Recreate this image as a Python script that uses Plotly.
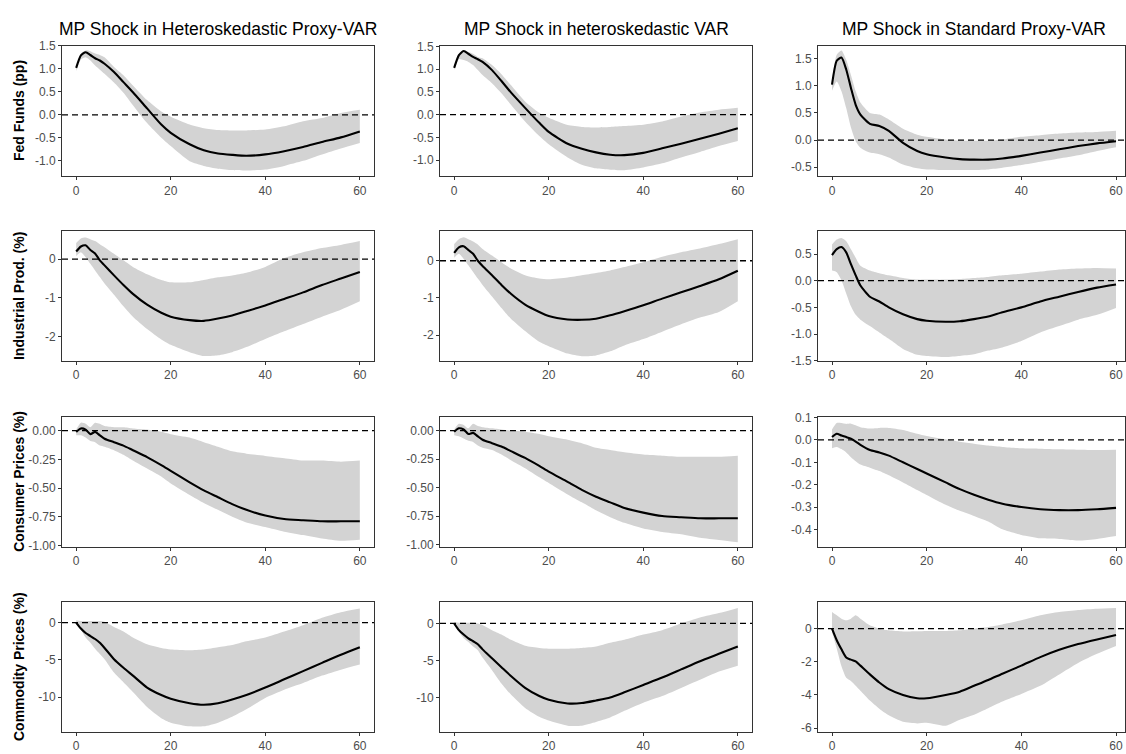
import plotly.graph_objects as go

W, HGT = 1126, 754

# horizons (months)
H = [0, 1, 2, 3, 4, 5, 6, 8, 10, 12, 15, 18, 20, 24, 27, 30, 33, 36, 40, 44, 48, 52, 56, 60]

col_titles = ["MP Shock in Heteroskedastic Proxy-VAR", "MP Shock in heteroskedastic VAR",
              "MP Shock in Standard Proxy-VAR"]
row_titles = ["Fed Funds (pp)", "Industrial Prod. (%)", "Consumer Prices (%)", "Commodity Prices (%)"]

# ---------- Fed Funds ----------
ff_hp_med = [1.02, 1.29, 1.36, 1.30, 1.23, 1.18, 1.11, 0.93, 0.71, 0.49, 0.14, -0.21, -0.39, -0.64, -0.77, -0.84, -0.87, -0.89, -0.86, -0.79, -0.70, -0.59, -0.49, -0.36]
ff_hp_up = [1.05, 1.33, 1.40, 1.38, 1.33, 1.30, 1.25, 1.04, 0.86, 0.64, 0.32, 0.07, -0.04, -0.21, -0.29, -0.33, -0.34, -0.34, -0.32, -0.25, -0.14, -0.07, 0.04, 0.11]
ff_hp_lo = [0.95, 1.20, 1.25, 1.18, 1.07, 0.98, 0.89, 0.70, 0.48, 0.21, -0.18, -0.50, -0.68, -1.01, -1.11, -1.17, -1.20, -1.21, -1.19, -1.11, -1.00, -0.86, -0.73, -0.61]

ff_hv_med = [1.03, 1.31, 1.40, 1.34, 1.27, 1.22, 1.16, 0.98, 0.74, 0.49, 0.15, -0.18, -0.38, -0.64, -0.75, -0.83, -0.88, -0.89, -0.84, -0.74, -0.64, -0.53, -0.42, -0.30]
ff_hv_up = [1.07, 1.34, 1.42, 1.38, 1.34, 1.27, 1.24, 1.09, 0.89, 0.65, 0.29, 0.04, -0.07, -0.23, -0.27, -0.28, -0.27, -0.25, -0.22, -0.15, -0.04, 0.05, 0.11, 0.15]
ff_hv_lo = [0.98, 1.22, 1.20, 1.16, 1.09, 0.98, 0.87, 0.69, 0.47, 0.22, -0.15, -0.47, -0.65, -0.94, -1.10, -1.18, -1.21, -1.22, -1.16, -1.07, -0.94, -0.82, -0.69, -0.58]

ff_sp_med = [1.02, 1.46, 1.52, 1.30, 0.96, 0.65, 0.47, 0.30, 0.26, 0.17, -0.05, -0.20, -0.26, -0.32, -0.35, -0.36, -0.36, -0.34, -0.29, -0.23, -0.17, -0.11, -0.06, -0.02]
ff_sp_up = [1.11, 1.57, 1.65, 1.48, 1.20, 0.90, 0.69, 0.50, 0.47, 0.38, 0.21, 0.10, 0.06, 0.01, -0.01, -0.01, -0.01, 0.01, 0.06, 0.09, 0.12, 0.14, 0.15, 0.17]
ff_sp_lo = [0.91, 1.08, 0.90, 0.59, 0.23, -0.02, -0.14, -0.23, -0.26, -0.32, -0.45, -0.52, -0.54, -0.55, -0.55, -0.55, -0.54, -0.51, -0.46, -0.40, -0.34, -0.28, -0.20, -0.13]

# ---------- Industrial production ----------
ip_hp_med = [0.20, 0.33, 0.36, 0.24, 0.15, -0.03, -0.16, -0.42, -0.67, -0.90, -1.18, -1.39, -1.49, -1.58, -1.60, -1.54, -1.46, -1.35, -1.20, -1.03, -0.86, -0.67, -0.50, -0.33]
ip_hp_up = [0.42, 0.54, 0.56, 0.52, 0.47, 0.39, 0.31, 0.14, -0.03, -0.20, -0.39, -0.54, -0.60, -0.60, -0.54, -0.47, -0.42, -0.35, -0.20, 0.03, 0.18, 0.29, 0.37, 0.47]
ip_hp_lo = [0.08, 0.18, 0.05, -0.12, -0.29, -0.46, -0.63, -0.92, -1.22, -1.49, -1.81, -2.08, -2.22, -2.41, -2.51, -2.49, -2.41, -2.28, -2.07, -1.87, -1.68, -1.49, -1.31, -1.09]

ip_hv_med = [0.21, 0.36, 0.39, 0.29, 0.19, 0.00, -0.14, -0.39, -0.65, -0.89, -1.18, -1.38, -1.49, -1.58, -1.59, -1.56, -1.47, -1.36, -1.20, -1.02, -0.85, -0.68, -0.50, -0.27]
ip_hv_up = [0.45, 0.58, 0.63, 0.58, 0.52, 0.44, 0.32, 0.14, -0.04, -0.21, -0.39, -0.48, -0.50, -0.45, -0.39, -0.33, -0.26, -0.17, -0.04, 0.11, 0.23, 0.33, 0.45, 0.58]
ip_hv_lo = [0.08, 0.19, 0.05, -0.12, -0.30, -0.48, -0.65, -0.96, -1.27, -1.56, -1.89, -2.18, -2.30, -2.50, -2.57, -2.55, -2.44, -2.28, -2.11, -1.91, -1.71, -1.53, -1.38, -1.09]

ip_sp_med = [0.48, 0.59, 0.63, 0.53, 0.31, 0.10, -0.09, -0.30, -0.39, -0.50, -0.63, -0.72, -0.75, -0.77, -0.76, -0.72, -0.67, -0.59, -0.50, -0.39, -0.30, -0.21, -0.13, -0.07]
ip_sp_up = [0.68, 0.77, 0.80, 0.74, 0.59, 0.43, 0.28, 0.19, 0.14, 0.10, 0.05, 0.02, 0.02, 0.02, 0.03, 0.05, 0.07, 0.10, 0.13, 0.17, 0.21, 0.23, 0.24, 0.23]
ip_sp_lo = [0.19, 0.16, 0.01, -0.24, -0.48, -0.64, -0.73, -0.85, -0.97, -1.09, -1.28, -1.39, -1.41, -1.43, -1.41, -1.38, -1.31, -1.25, -1.13, -0.97, -0.85, -0.73, -0.64, -0.51]

# ---------- Consumer prices ----------
cp_hp_med = [-0.01, 0.02, 0.01, -0.03, -0.01, -0.04, -0.07, -0.10, -0.13, -0.17, -0.23, -0.30, -0.35, -0.45, -0.52, -0.58, -0.64, -0.69, -0.74, -0.77, -0.78, -0.79, -0.79, -0.79]
cp_hp_up = [0.01, 0.07, 0.06, 0.03, 0.07, 0.06, 0.04, 0.03, 0.03, 0.02, 0.01, -0.01, -0.03, -0.06, -0.10, -0.14, -0.18, -0.20, -0.22, -0.24, -0.26, -0.26, -0.27, -0.26]
cp_hp_lo = [-0.04, -0.04, -0.06, -0.09, -0.10, -0.13, -0.14, -0.17, -0.21, -0.26, -0.33, -0.40, -0.46, -0.56, -0.63, -0.69, -0.75, -0.80, -0.84, -0.88, -0.91, -0.94, -0.96, -0.95]

cp_hv_med = [-0.01, 0.02, 0.01, -0.03, -0.02, -0.05, -0.08, -0.11, -0.14, -0.18, -0.24, -0.31, -0.36, -0.45, -0.52, -0.58, -0.63, -0.68, -0.72, -0.75, -0.76, -0.77, -0.77, -0.77]
cp_hv_up = [0.01, 0.06, 0.05, 0.02, 0.06, 0.04, 0.03, 0.02, 0.01, 0.00, -0.01, -0.03, -0.05, -0.08, -0.11, -0.15, -0.17, -0.19, -0.21, -0.22, -0.23, -0.23, -0.23, -0.22]
cp_hv_lo = [-0.04, -0.05, -0.07, -0.09, -0.10, -0.13, -0.15, -0.17, -0.21, -0.26, -0.33, -0.41, -0.46, -0.56, -0.63, -0.70, -0.76, -0.81, -0.86, -0.89, -0.91, -0.94, -0.96, -0.98]

cp_sp_med = [0.013, 0.028, 0.020, 0.013, 0.006, -0.007, -0.022, -0.045, -0.056, -0.070, -0.100, -0.130, -0.150, -0.190, -0.220, -0.245, -0.267, -0.285, -0.300, -0.310, -0.314, -0.314, -0.310, -0.304]
cp_sp_up = [0.047, 0.076, 0.076, 0.072, 0.073, 0.066, 0.057, 0.051, 0.054, 0.054, 0.045, 0.028, 0.018, 0.003, -0.008, -0.017, -0.025, -0.031, -0.037, -0.039, -0.042, -0.044, -0.045, -0.044]
cp_sp_lo = [-0.037, -0.031, -0.041, -0.056, -0.077, -0.095, -0.110, -0.124, -0.139, -0.158, -0.190, -0.224, -0.246, -0.290, -0.317, -0.340, -0.365, -0.400, -0.425, -0.440, -0.443, -0.450, -0.443, -0.430]

# ---------- Commodity prices ----------
cm_hp_med = [0.0, -0.8, -1.4, -1.8, -2.2, -2.7, -3.4, -4.9, -6.05, -7.1, -8.7, -9.7, -10.2, -10.8, -11.0, -10.8, -10.3, -9.7, -8.7, -7.6, -6.5, -5.4, -4.3, -3.3]
cm_hp_up = [0.3, 0.2, 0.2, 0.2, 0.2, 0.2, 0.1, -0.6, -1.2, -2.0, -2.9, -3.4, -3.6, -3.7, -3.6, -3.3, -3.0, -2.5, -2.0, -1.2, -0.35, 0.65, 1.4, 1.9]
cm_hp_lo = [-0.26, -1.0, -2.0, -2.7, -3.5, -4.2, -4.9, -6.7, -8.0, -9.3, -11.3, -12.8, -13.4, -13.9, -13.9, -13.4, -12.6, -11.6, -10.1, -9.0, -8.1, -7.1, -6.3, -5.6]

cm_hv_med = [0.0, -0.9, -1.5, -2.0, -2.4, -2.8, -3.5, -4.7, -5.9, -7.1, -8.7, -9.8, -10.3, -10.8, -10.75, -10.4, -10.0, -9.3, -8.3, -7.3, -6.2, -5.1, -4.1, -3.1]
cm_hv_up = [0.2, 0.1, 0.1, 0.1, 0.1, 0.0, -0.2, -0.9, -1.5, -2.2, -3.0, -3.3, -3.4, -3.4, -3.3, -3.1, -2.6, -2.2, -1.5, -0.9, 0.0, 0.8, 1.4, 2.1]
cm_hv_lo = [-0.2, -1.1, -2.0, -2.5, -3.1, -3.6, -4.6, -6.3, -8.1, -9.6, -11.4, -12.6, -13.1, -13.8, -13.8, -13.3, -12.7, -11.8, -10.7, -9.8, -8.7, -7.6, -6.5, -5.7]

cm_sp_med = [0.0, -0.7, -1.25, -1.74, -1.87, -1.97, -2.23, -2.76, -3.25, -3.65, -4.0, -4.2, -4.2, -4.0, -3.8, -3.45, -3.1, -2.72, -2.23, -1.72, -1.28, -0.93, -0.65, -0.39]
cm_sp_up = [1.0, 0.8, 0.6, 0.5, 0.6, 0.8, 0.6, 0.2, 0.0, -0.1, -0.17, -0.16, -0.14, -0.14, -0.1, 0.0, 0.1, 0.25, 0.5, 0.8, 1.0, 1.12, 1.2, 1.24]
cm_sp_lo = [-0.2, -1.2, -2.27, -2.96, -3.16, -3.45, -3.75, -4.34, -4.83, -5.23, -5.62, -5.72, -5.68, -5.86, -5.5, -5.2, -4.8, -4.4, -3.94, -3.45, -2.76, -2.07, -1.52, -1.05]

x_ticks = [0, 20, 40, 60]
x_tick_text = ["0", "20", "40", "60"]

ff_ticks = [-1.0, -0.5, 0.0, 0.5, 1.0, 1.5]
ff_ticks_text = ["-1.0", "-0.5", "0.0", "0.5", "1.0", "1.5"]
ff_sp_ticks = [-0.5, 0.0, 0.5, 1.0, 1.5]
ff_sp_ticks_text = ["-0.5", "0.0", "0.5", "1.0", "1.5"]
ip_ticks = [-2, -1, 0]
ip_ticks_text = ["-2", "-1", "0"]
ip_sp_ticks = [-1.5, -1.0, -0.5, 0.0, 0.5]
ip_sp_ticks_text = ["-1.5", "-1.0", "-0.5", "0.0", "0.5"]
cp_ticks = [-1.0, -0.75, -0.5, -0.25, 0.0]
cp_ticks_text = ["-1.00", "-0.75", "-0.50", "-0.25", "0.00"]
cp_sp_ticks = [-0.4, -0.3, -0.2, -0.1, 0.0, 0.1]
cp_sp_ticks_text = ["-0.4", "-0.3", "-0.2", "-0.1", "0.0", "0.1"]
cm_ticks = [-10, -5, 0]
cm_ticks_text = ["-10", "-5", "0"]
cm_sp_ticks = [-6, -4, -2, 0]
cm_sp_ticks_text = ["-6", "-4", "-2", "0"]

panels = [
    [(ff_hp_med, ff_hp_lo, ff_hp_up), (ff_hv_med, ff_hv_lo, ff_hv_up), (ff_sp_med, ff_sp_lo, ff_sp_up)],
    [(ip_hp_med, ip_hp_lo, ip_hp_up), (ip_hv_med, ip_hv_lo, ip_hv_up), (ip_sp_med, ip_sp_lo, ip_sp_up)],
    [(cp_hp_med, cp_hp_lo, cp_hp_up), (cp_hv_med, cp_hv_lo, cp_hv_up), (cp_sp_med, cp_sp_lo, cp_sp_up)],
    [(cm_hp_med, cm_hp_lo, cm_hp_up), (cm_hv_med, cm_hv_lo, cm_hv_up), (cm_sp_med, cm_sp_lo, cm_sp_up)],
]
yticks = [
    [(ff_ticks, ff_ticks_text), (ff_ticks, ff_ticks_text), (ff_sp_ticks, ff_sp_ticks_text)],
    [(ip_ticks, ip_ticks_text), (ip_ticks, ip_ticks_text), (ip_sp_ticks, ip_sp_ticks_text)],
    [(cp_ticks, cp_ticks_text), (cp_ticks, cp_ticks_text), (cp_sp_ticks, cp_sp_ticks_text)],
    [(cm_ticks, cm_ticks_text), (cm_ticks, cm_ticks_text), (cm_sp_ticks, cm_sp_ticks_text)],
]
yranges = [
    [[-1.34, 1.505], [-1.36, 1.52], [-0.67, 1.74]],
    [[-2.64, 0.73], [-2.70, 0.80], [-1.505, 0.93]],
    [[-1.012, 0.12], [-1.02, 0.12], [-0.478, 0.103]],
    [[-14.6, 2.7], [-14.6, 2.84], [-6.21, 1.58]],
]

# layout geometry (pixels)
col_px = [(62, 374), (440, 752), (818, 1125)]
row_px = [(39.3, 172.7), (228.3, 360.7), (417.7, 550.0), (606.7, 738.3)]
xranges = [[-3, 63], [-3, 63], [-2.96, 61.9]]

FONT = "Liberation Sans, Arial, sans-serif"
AXCOL = "#333333"
TICKCOL = "#4d4d4d"

fig = go.Figure()
layout = {}
for r in range(4):
    for c in range(3):
        k = r * 3 + c + 1
        xa = "x" if k == 1 else f"x{k}"
        ya = "y" if k == 1 else f"y{k}"
        med, lo, up = panels[r][c]
        fig.add_trace(go.Scatter(x=H, y=lo, mode="lines", line=dict(width=0, shape="spline", smoothing=0.6),
                                 xaxis=xa, yaxis=ya, hoverinfo="skip", showlegend=False))
        fig.add_trace(go.Scatter(x=H, y=up, mode="lines", line=dict(width=0, shape="spline", smoothing=0.6),
                                 fill="tonexty", fillcolor="#d3d3d3",
                                 xaxis=xa, yaxis=ya, hoverinfo="skip", showlegend=False))
        fig.add_trace(go.Scatter(x=H, y=med, mode="lines",
                                 line=dict(color="black", width=2.1, shape="spline", smoothing=0.6),
                                 xaxis=xa, yaxis=ya, showlegend=False))
        fig.add_shape(type="line", xref=f"{xa} domain", yref=ya, x0=0, x1=1, y0=0, y1=0,
                      line=dict(color="black", width=1.3, dash="6px,4px"), layer="above")
        x0p, x1p = col_px[c]
        y0p, y1p = row_px[r]
        tv, tt = yticks[r][c]
        layout["xaxis" if k == 1 else f"xaxis{k}"] = dict(
            domain=[x0p / W, x1p / W], anchor=ya, range=xranges[c],
            tickvals=x_ticks, ticktext=x_tick_text, ticks="outside", ticklen=3, tickwidth=1,
            tickcolor=AXCOL, showline=True, mirror=True, linecolor=AXCOL, linewidth=1,
            showgrid=False, zeroline=False, tickfont=dict(size=12, color=TICKCOL, family=FONT))
        layout["yaxis" if k == 1 else f"yaxis{k}"] = dict(
            domain=[1 - y1p / HGT, 1 - y0p / HGT], anchor=xa, range=yranges[r][c],
            tickvals=tv, ticktext=tt, ticks="outside", ticklen=3, tickwidth=1,
            tickcolor=AXCOL, showline=True, mirror=True, linecolor=AXCOL, linewidth=1,
            showgrid=False, zeroline=False, tickfont=dict(size=12, color=TICKCOL, family=FONT))

annotations = []
for c in range(3):
    x0p, x1p = col_px[c]
    if c == 2:
        x1p = 1130
    annotations.append(dict(text=col_titles[c], x=(x0p + x1p) / 2 / W, y=1 - 22.5 / HGT,
                            xref="paper", yref="paper", xanchor="center", yanchor="middle",
                            showarrow=False, font=dict(size=17.5, color="black", family=FONT)))
for r in range(4):
    y0p, y1p = row_px[r]
    annotations.append(dict(text="<b>" + row_titles[r] + "</b>", x=19 / W, y=1 - (y0p + y1p) / 2 / HGT,
                            xref="paper", yref="paper", xanchor="center", yanchor="middle",
                            textangle=-90, showarrow=False,
                            font=dict(size=14, color="black", family=FONT)))

fig.update_layout(width=W, height=HGT, margin=dict(l=0, r=0, t=0, b=0),
                  paper_bgcolor="white", plot_bgcolor="white",
                  font=dict(family=FONT), annotations=annotations, showlegend=False, **layout)

fig.write_html("out.html", config={"displayModeBar": False},
               post_script="document.body.style.margin='0';document.body.style.overflow='hidden';")
